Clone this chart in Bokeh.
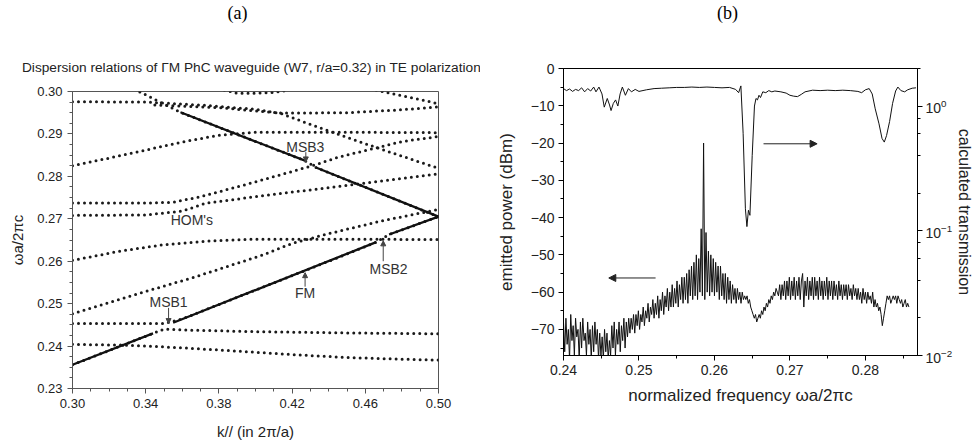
import numpy as np
from bokeh.plotting import figure
from bokeh.layouts import row, column
from bokeh.models import (Range1d, LogAxis, LogScale, Label, Arrow,
                          NormalHead, FixedTicker, NumeralTickFormatter)
from bokeh.core.properties import value
from bokeh.embed import file_html
from bokeh.resources import INLINE

SANS = "Liberation Sans"
SERIF = "Liberation Serif"
nan = float("nan")

# ---------------- panel (a): dispersion relations ----------------
k_ticks = [0.30, 0.34, 0.38, 0.42, 0.46, 0.50]
f_ticks = [0.23, 0.24, 0.25, 0.26, 0.27, 0.28, 0.29, 0.30]

band1_k = [0.30, 0.33, 0.36, 0.39, 0.42, 0.45, 0.48, 0.50]
band1_f = [0.2404, 0.2402, 0.2396, 0.2388, 0.2380, 0.2373, 0.2369, 0.2367]
band2_k = [0.30, 0.35, 0.36, 0.40, 0.45, 0.50]
band2_f = [0.2356, 0.2440, 0.2438, 0.2434, 0.2431, 0.2429]
band3_k = [0.30, 0.35, 0.36, 0.40, 0.44, 0.466, 0.473, 0.50]
band3_f = [0.2453, 0.2453, 0.2464, 0.2532, 0.2600, 0.2645, 0.2663, 0.2705]
band4_k = [0.50, 0.433, 0.427, 0.359, 0.335]
band4_f = [0.2705, 0.2821, 0.2837, 0.2951, 0.3003]
band5_k = [0.30, 0.33, 0.367, 0.4035, 0.42, 0.44, 0.47, 0.50]
band5_f = [0.2476, 0.2516, 0.2563, 0.2614, 0.2642, 0.2665, 0.2696, 0.2722]
band6_k = [0.30, 0.325, 0.35, 0.375, 0.40, 0.45, 0.50]
band6_f = [0.2602, 0.2623, 0.2639, 0.2648, 0.2652, 0.2652, 0.2651]
band7_k = [0.30, 0.34, 0.36, 0.373, 0.40, 0.45, 0.50]
band7_f = [0.2708, 0.2709, 0.2718, 0.2737, 0.2752, 0.2779, 0.2806]
band8_k = [0.30, 0.34, 0.355, 0.37, 0.40, 0.4318, 0.445, 0.465, 0.48, 0.50]
band8_f = [0.2737, 0.2737, 0.2739, 0.2752, 0.2787, 0.2826, 0.2845, 0.2866, 0.2882, 0.2894]
band9_k = [0.30, 0.32, 0.34, 0.36, 0.38, 0.40, 0.45, 0.50]
band9_f = [0.2825, 0.2843, 0.2862, 0.2881, 0.2897, 0.2904, 0.2904, 0.2903]
band10_k = [0.30, 0.34, 0.37, 0.40, 0.414, 0.436, 0.47, 0.50]
band10_f = [0.2976, 0.2975, 0.2968, 0.2958, 0.2948, 0.2913, 0.2862, 0.2819]
band11_k = [0.345, 0.38, 0.414, 0.45, 0.48, 0.50]
band11_f = [0.2968, 0.2962, 0.2949, 0.2950, 0.2957, 0.2964]
band12_k = [0.383, 0.39, 0.40, 0.41, 0.418]
band12_f = [0.3003, 0.2996, 0.2996, 0.2998, 0.3003]
band13_k = [0.466, 0.48, 0.49, 0.50]
band13_f = [0.3003, 0.2990, 0.2981, 0.2971]

# fundamental mode (solid, folded at the zone edge), NaN = mini-stopband gaps
fm_k = [0.300, 0.344, nan, 0.355, 0.466, nan, 0.473, 0.500, 0.433, nan, 0.427, 0.359]
fm_f = [0.2356, 0.2430, nan, 0.2455, 0.2645, nan, 0.2663, 0.2705, 0.2821, nan, 0.2837, 0.2951]

# ---------------- panel (b): emission & transmission ----------------
freq_start = 0.2400
freq_step = 0.00016
power_dbm = [
    # 0.2400 - 0.2488 noise floor
    -68, -76, -67, -74, -70, -78, -66, -73, -69, -77,
    -67, -72, -70, -78, -68, -75, -67, -73, -71, -77,
    -68, -74, -70, -78, -69, -76, -68, -74, -70, -78,
    -71, -77, -72, -78, -70, -76, -71, -78, -73, -77,
    -69, -75, -68, -77, -70, -74, -68, -76, -69, -73,
    -67, -75, -68, -72, -67, -71,
    # 0.2490 - 0.2584 rising fringes
    -67, -70, -66, -71,
    -66, -69, -65, -70, -66, -68, -64, -69, -65, -67,
    -63, -68, -64, -66, -62, -67, -63, -66, -61, -67,
    -62, -65, -60, -66, -61, -64, -59, -65, -60, -64,
    -58, -64, -59, -63, -57, -64, -58, -62, -56, -63,
    -56, -62, -55, -63, -54, -61, -53, -62, -52, -61,
    -50, -62, -51, -60, -43, -61,
    # lasing line
    -20,
    # 0.2587 - 0.2640 decreasing fringes
    -62, -44, -60, -49, -61, -50, -60, -51, -61, -52,
    -60, -53, -62, -53, -61, -55, -62, -55, -63, -56,
    -62, -57, -63, -58, -62, -59, -63, -59, -62, -60,
    -63, -60, -62, -61,
    # 0.2642 - 0.2682 dip
    -62, -61, -63, -62, -64, -65, -66, -67, -66, -68,
    -67, -66, -67, -65, -66, -64, -65, -63, -64, -62,
    -63, -61, -62, -60, -61, -59,
    # 0.2683 - 0.2789 second band fringes
    -60, -61, -58, -62, -58, -61, -57, -62, -57, -61,
    -56, -62, -57, -61, -56, -62, -57, -61, -56, -62,
    -57, -55, -64, -57, -61, -56, -62, -57, -61, -56,
    -62, -56, -61, -57, -62, -56, -61, -57, -62, -57,
    -61, -56, -62, -57, -61, -57, -62, -57, -61, -58,
    -62, -57, -61, -58, -62, -58, -61, -58, -62, -58,
    -61, -59, -62, -58, -61, -59, -62,
    # 0.2790 - 0.2858 tail with dip
    -59, -62, -60, -63, -59, -62, -60, -63, -60, -62,
    -61, -63, -60, -64, -62, -64, -63, -65, -64, -66,
    -69, -67, -65, -63, -61, -62, -61, -63, -62, -61,
    -62, -61, -63, -61, -62, -63, -62, -64, -63, -62,
    -64, -63, -64,
]
freq = freq_start + freq_step * np.arange(len(power_dbm))

trans_f = [0.2400, 0.2404, 0.2408, 0.2412, 0.2416, 0.2420, 0.2424, 0.2428, 0.2432, 0.2436,
           0.2440, 0.2443, 0.2447, 0.2451, 0.2454, 0.2458, 0.2461, 0.2463, 0.2466, 0.2469,
           0.2472, 0.2475, 0.2478, 0.2482, 0.2486, 0.2490, 0.2495, 0.2500, 0.2510, 0.2520,
           0.2530, 0.2540, 0.2550, 0.2560, 0.2570, 0.2580, 0.2590, 0.2600, 0.2610, 0.2620,
           0.2628, 0.2632, 0.2635, 0.2638, 0.2641, 0.2643, 0.2645, 0.2647, 0.2650, 0.2653,
           0.2655, 0.2657, 0.2659, 0.2661, 0.2664, 0.2668, 0.2672, 0.2676, 0.2680, 0.2688,
           0.2695, 0.2700, 0.2705, 0.2710, 0.2715, 0.2720, 0.2730, 0.2740, 0.2750, 0.2760,
           0.2770, 0.2780, 0.2790, 0.2795, 0.2800, 0.2805, 0.2809, 0.2813, 0.2818, 0.2822,
           0.2825, 0.2828, 0.2832, 0.2836, 0.2840, 0.2843, 0.2847, 0.2852, 0.2856, 0.2862,
           0.2867]
trans_t = [1.38, 1.33, 1.37, 1.31, 1.36, 1.33, 1.40, 1.30, 1.38, 1.32,
           1.42, 1.30, 1.42, 1.25, 0.98, 1.15, 1.02, 0.92, 1.05, 1.12,
           1.00, 1.25, 1.42, 1.22, 1.38, 1.30, 1.36, 1.31, 1.35, 1.38,
           1.39, 1.40, 1.41, 1.41, 1.42, 1.41, 1.42, 1.41, 1.40, 1.41,
           1.36, 1.28, 1.45, 0.60, 0.15, 0.108, 0.146, 0.133, 0.40, 1.00,
           1.15, 1.12, 1.22, 1.17, 1.30, 1.28, 1.33, 1.30, 1.32, 1.30,
           1.27, 1.22, 1.20, 1.19, 1.24, 1.30, 1.34, 1.33, 1.34, 1.33,
           1.34, 1.33, 1.31, 1.28, 1.35, 1.38, 1.25, 0.95, 0.72, 0.55,
           0.514, 0.58, 0.75, 1.05, 1.32, 1.42, 1.33, 1.30, 1.35, 1.39,
           1.40]

nu_ticks = [0.24, 0.25, 0.26, 0.27, 0.28]
dbm_ticks = [0, -10, -20, -30, -40, -50, -60, -70]

title_a = "(a)"
title_b = "(b)"
title_disp = "Dispersion relations of \u0393M PhC waveguide (W7, r/a=0.32) in TE polarization"


def text_strip(w, h):
    p = figure(width=w, height=h, frame_width=w, frame_height=h,
               x_range=Range1d(0, w), y_range=Range1d(0, h),
               x_axis_type=None, y_axis_type=None, min_border=0,
               output_backend="svg", toolbar_location=None, tools="")
    p.frame_align = False
    p.grid.visible = False
    p.outline_line_color = None
    p.background_fill_color = "white"
    p.border_fill_color = "white"
    return p


# =================== header of (a) ===================
ta = text_strip(480, 80)
ta.text(x=[237], y=[68], text=[title_a], text_align="center", text_baseline="middle",
        text_font=value(SERIF), text_font_size="18px", text_color="#000000")
ta.text(x=[251], y=[13], text=[title_disp], text_align="center", text_baseline="middle",
        text_font=value(SANS), text_font_size="13.7px", text_color="#222222")

# =================== figure (a) ===================
p1 = figure(width=480, height=366, frame_width=366, frame_height=297,
            min_border_left=72, min_border_right=42, min_border_top=11, min_border_bottom=58,
            x_range=Range1d(0.30, 0.50), y_range=Range1d(0.23, 0.30),
            output_backend="svg", toolbar_location=None, tools="")
p1.frame_align = False
p1.grid.visible = False
p1.outline_line_color = "#555555"
p1.background_fill_color = "white"
p1.border_fill_color = "white"

ax1x = p1.below[0]
ax1y = p1.left[0]
ax1x.ticker = FixedTicker(ticks=k_ticks, minor_ticks=list(np.round(np.arange(0.30, 0.5001, 0.01), 3)))
ax1y.ticker = FixedTicker(ticks=f_ticks, minor_ticks=list(np.round(np.arange(0.23, 0.3001, 0.0025), 4)))
for ax in (ax1x, ax1y):
    ax.formatter = NumeralTickFormatter(format="0.00")
    ax.axis_line_color = "#555555"
    ax.major_tick_line_color = "#555555"
    ax.minor_tick_line_color = "#555555"
    ax.major_tick_out = 5
    ax.major_tick_in = 0
    ax.minor_tick_out = 3
    ax.minor_tick_in = 0
    ax.major_label_text_font = SANS
    ax.major_label_text_font_size = "13px"
    ax.major_label_text_color = "#222222"
    ax.axis_label_text_font = SANS
    ax.axis_label_text_font_style = "normal"
    ax.axis_label_text_color = "#222222"
ax1x.axis_label = "k// (in 2\u03c0/a)"
ax1x.axis_label_text_font_size = "15px"
ax1x.axis_label_standoff = 12
ax1y.axis_label = "\u03c9a/2\u03c0c"
ax1y.axis_label_text_font_size = "15px"
ax1y.axis_label_standoff = 8

bands_k = [band1_k, band2_k, band3_k, band4_k, band5_k, band6_k, band7_k,
           band8_k, band9_k, band10_k, band11_k, band12_k, band13_k]
bands_f = [band1_f, band2_f, band3_f, band4_f, band5_f, band6_f, band7_f,
           band8_f, band9_f, band10_f, band11_f, band12_f, band13_f]
p1.multi_line(xs=bands_k, ys=bands_f, line_color="#1a1a1a", line_width=3,
              line_dash="0 6", line_cap="round")
p1.line(fm_k, fm_f, line_color="#111111", line_width=2.3)


def note(p, x, y, t):
    p.add_layout(Label(x=x, y=y, text=t, text_align="center", text_baseline="middle",
                       text_font=SANS, text_font_size="14px", text_color="#333333"))


def pointer(p, x0, y0, x1, y1):
    p.add_layout(Arrow(x_start=x0, y_start=y0, x_end=x1, y_end=y1, line_color="#444444",
                       line_width=1, end=NormalHead(size=5, fill_color="#444444",
                                                    line_color="#444444")))


note(p1, 0.4272, 0.2870, "MSB3")
pointer(p1, 0.4275, 0.2857, 0.4275, 0.2834)
note(p1, 0.3652, 0.2698, "HOM's")
note(p1, 0.3525, 0.2504, "MSB1")
pointer(p1, 0.3525, 0.2490, 0.3525, 0.2453)
note(p1, 0.4271, 0.2524, "FM")
pointer(p1, 0.4271, 0.2540, 0.4271, 0.2573)
note(p1, 0.4727, 0.2582, "MSB2")
pointer(p1, 0.4698, 0.2600, 0.4698, 0.2648)

# =================== header of (b) ===================
tb = text_strip(494, 30)
tb.text(x=[247], y=[18], text=[title_b], text_align="center", text_baseline="middle",
        text_font=value(SERIF), text_font_size="18px", text_color="#000000")

# =================== figure (b) ===================
p2 = figure(width=494, height=416, frame_width=354, frame_height=287,
            min_border_left=83, min_border_right=57, min_border_top=38, min_border_bottom=91,
            x_range=Range1d(0.24, 0.2869), y_range=Range1d(-77, 0),
            output_backend="svg", toolbar_location=None, tools="")
p2.frame_align = False
p2.grid.visible = False
p2.outline_line_color = "#000000"
p2.extra_y_ranges = {"t": Range1d(0.01, 2.0)}
p2.extra_y_scales = {"t": LogScale()}

ax2x = p2.below[0]
ax2y = p2.left[0]
ax2x.ticker = FixedTicker(ticks=nu_ticks, minor_ticks=list(np.round(np.arange(0.24, 0.2871, 0.005), 3)))
ax2y.ticker = FixedTicker(ticks=dbm_ticks, minor_ticks=list(range(-75, 1, 5)))
ax2x.formatter = NumeralTickFormatter(format="0.00")

raxis = LogAxis(y_range_name="t", axis_label="calculated transmission")
p2.add_layout(raxis, "right")

for ax in (ax2x, ax2y, raxis):
    ax.axis_line_color = "#000000"
    ax.major_tick_line_color = "#000000"
    ax.minor_tick_line_color = "#000000"
    ax.major_tick_out = 5
    ax.major_tick_in = 0
    ax.minor_tick_out = 3
    ax.minor_tick_in = 0
    ax.major_label_text_font = SANS
    ax.major_label_text_font_size = "14px"
    ax.major_label_text_color = "#222222"
    ax.major_label_standoff = 4
    ax.axis_label_text_font = SANS
    ax.axis_label_text_font_style = "normal"
    ax.axis_label_text_font_size = "17px"
    ax.axis_label_text_color = "#222222"
ax2x.axis_label = "normalized frequency \u03c9a/2\u03c0c"
ax2x.axis_label_standoff = 8
ax2y.axis_label = "emitted power (dBm)"
ax2y.axis_label_standoff = 12
raxis.axis_label_text_font_size = "16px"
raxis.major_label_standoff = 3
raxis.axis_label_standoff = 1

p2.line(freq, power_dbm, line_color="#111111", line_width=1)
p2.line(trans_f, trans_t, y_range_name="t", line_color="#111111", line_width=1)

for x0, x1, y in ((0.2665, 0.2736, -20.2), (0.2522, 0.2460, -56.2)):
    p2.add_layout(Arrow(x_start=x0, y_start=y, x_end=x1, y_end=y, line_color="#222222",
                        line_width=1, end=NormalHead(size=7, fill_color="#222222",
                                                     line_color="#222222")))

layout = row(column(ta, p1), column(tb, p2))
open("out.html", "w").write(file_html(layout, INLINE))
